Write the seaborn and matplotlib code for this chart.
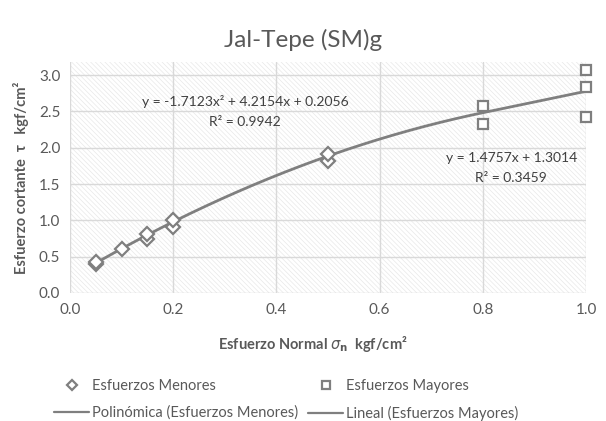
import numpy as np
import pandas as pd
import matplotlib
matplotlib.use("Agg")
import matplotlib.pyplot as plt
import seaborn as sns
from matplotlib.lines import Line2D
from matplotlib.patches import Rectangle

# ---- data ----
menores_x = [0.05, 0.05, 0.10, 0.15, 0.15, 0.20, 0.20, 0.50, 0.50]
menores_y = [0.40, 0.42, 0.60, 0.75, 0.81, 0.91, 1.00, 1.82, 1.92]
mayores_x = [0.80, 0.80, 1.00, 1.00, 1.00]
mayores_y = [2.57, 2.32, 3.07, 2.83, 2.42]
poly_coef = [-1.7123, 4.2154, 0.2056]   # trendline shown on chart
lin_coef = [1.4757, 1.3014]
poly_range = [0.05, 0.80]
lin_range = [0.80, 1.00]
x_ticks = [0.0, 0.2, 0.4, 0.6, 0.8, 1.0]
y_ticks = [0.0, 0.5, 1.0, 1.5, 2.0, 2.5, 3.0]

sns.set_style("white")
plt.rcParams['font.family'] = ['Lato', 'DejaVu Sans']
plt.rcParams['hatch.linewidth'] = 0.5
plt.rcParams['mathtext.fontset'] = 'dejavusans'

GRAY = '#7f7f7f'
TXT = '#595959'

fig = plt.figure(figsize=(6.06, 4.21), dpi=100)
ax = fig.add_axes([70/606, 1-293/421, (586-70)/606, (293-62)/421])
ax.set_facecolor('white')
ax.add_patch(Rectangle((0, 0), 1, 1, transform=ax.transAxes, facecolor='white',
                       edgecolor='#e8e8e8', hatch='\\\\\\\\\\\\\\', linewidth=0, zorder=0))

# trendlines (from the equations displayed on the chart)
px = np.linspace(poly_range[0], poly_range[1], 200)
py = np.polyval(poly_coef, px)
lx = np.linspace(lin_range[0], lin_range[1], 50)
ly = np.polyval(lin_coef, lx)
sns.lineplot(x=px, y=py, ax=ax, color=GRAY, linewidth=2.0, zorder=3)
sns.lineplot(x=lx, y=ly, ax=ax, color=GRAY, linewidth=2.0, zorder=3)

# points
ax.plot(menores_x, menores_y, linestyle='none', marker='D', markersize=7,
        markerfacecolor='white', markeredgecolor=GRAY, markeredgewidth=1.6, zorder=4)
ax.plot(mayores_x, mayores_y, linestyle='none', marker='s', markersize=7.5,
        markerfacecolor='white', markeredgecolor=GRAY, markeredgewidth=1.6, zorder=4,
        clip_on=False)

ax.set_xlim(0, 1.0)
ax.set_ylim(0, 3.18)
ax.set_xticks(x_ticks)
ax.set_yticks(y_ticks)
ax.set_xticklabels([f"{v:.1f}" for v in x_ticks])
ax.set_yticklabels([f"{v:.1f}" for v in y_ticks])
ax.grid(True, color='#d9d9d9', linewidth=1.0, zorder=1)
ax.set_axisbelow(True)
for s in ax.spines.values():
    s.set_visible(False)
ax.tick_params(axis='both', length=0, labelsize=11, colors=TXT, pad=7)

ax.set_xlabel(r"Esfuerzo Normal $\sigma_\mathbf{n}$  kgf/cm²",
              fontsize=10.5, fontweight='bold', color=TXT)
ax.xaxis.set_label_coords((312.5 - 70) / 516, (293 - 334) / 231)
ax.set_ylabel("Esfuerzo cortante  τ   kgf/cm²", fontsize=10.5, fontweight='bold',
              color=TXT, labelpad=7)

fig.text(303/606, 1-40/421, "Jal-Tepe (SM)g", ha='center', va='center',
         fontsize=17.5, color=TXT)

ax.text(0.339, 2.63, "y = -1.7123x² + 4.2154x + 0.2056", ha='center', va='center',
        fontsize=10, color='#404040', zorder=5)
ax.text(0.339, 2.35, "R² = 0.9942", ha='center', va='center', fontsize=10,
        color='#404040', zorder=5)
ax.text(0.855, 1.86, "y = 1.4757x + 1.3014", ha='center', va='center',
        fontsize=10, color='#404040', zorder=5)
ax.text(0.855, 1.58, "R² = 0.3459", ha='center', va='center', fontsize=10,
        color='#404040', zorder=5)

handles = [
    Line2D([], [], linestyle='none', marker='D', markersize=5, markerfacecolor='white',
           markeredgecolor=GRAY, markeredgewidth=1.6),
    Line2D([], [], color=GRAY, linewidth=1.6),
    Line2D([], [], linestyle='none', marker='s', markersize=6, markerfacecolor='white',
           markeredgecolor=GRAY, markeredgewidth=1.6),
    Line2D([], [], color=GRAY, linewidth=1.6),
]
labels = ["Esfuerzos Menores", "Polinómica (Esfuerzos Menores)",
          "Esfuerzos Mayores", "Lineal (Esfuerzos Mayores)"]
leg = fig.legend(handles, labels, loc='upper left', bbox_to_anchor=(54/606, 1-379/421),
                 ncol=2, frameon=False, fontsize=10.5, handlelength=2.4, handletextpad=0.2,
                 columnspacing=0.69, labelspacing=0.88, borderpad=0, borderaxespad=0)
for t in leg.get_texts():
    t.set_color(TXT)

fig.savefig("out.png", dpi=100, facecolor='white')
